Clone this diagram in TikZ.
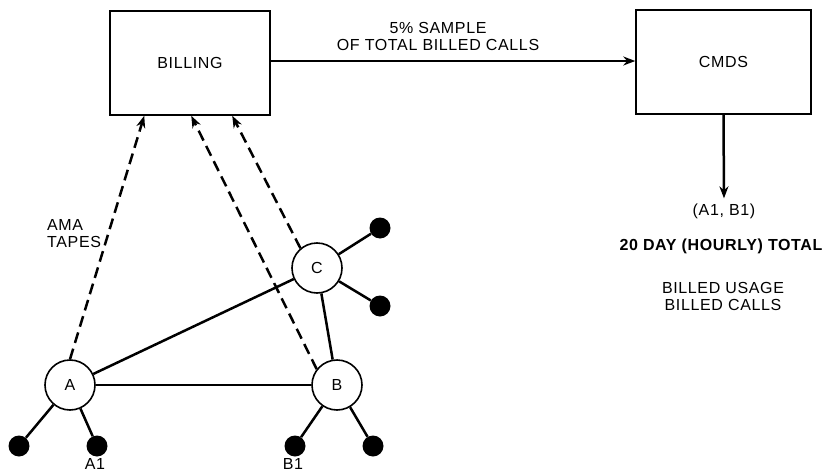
\documentclass[tikz,border=0pt]{standalone}
\usepackage{fontspec}
\setmainfont{Liberation Sans}[LetterSpace=4]
\usetikzlibrary{arrows.meta,calc}
\begin{document}
\begin{tikzpicture}[x=1pt,y=-1pt,
  every node/.style={font=\fontsize{16}{19}\selectfont},
  box/.style={draw,line width=1.5pt,inner sep=0pt},
  stn/.style={draw,circle,line width=1.6pt,minimum size=50pt,inner sep=0pt,fill=white},
  leaf/.style={circle,fill=black,minimum size=21pt,inner sep=0pt},
  wire/.style={line width=2.5pt},
  tip/.style={-{Stealth[length=12pt,width=9pt]}},
  dasharr/.style={wire,tip,dash pattern=on 11pt off 6pt},
  lbl/.style={inner sep=1pt,align=center}]
\useasboundingbox (0,0) rectangle (831,474);
% boxes
\node[box,minimum width=160pt,minimum height=104pt] (bill) at (190,63) {BILLING};
\node[box,minimum width=175pt,minimum height=104pt] (cmds) at (723.5,62) {CMDS};
% stations
\node[stn] (A) at (70,385) {A};
\node[stn] (B) at (337,385) {B};
\node[stn] (C) at (317,268) {C};
% leaves
\node[leaf] (a0) at (19,446) {};
\node[leaf] (a1) at (97,446) {};
\node[leaf] (b1) at (295,446) {};
\node[leaf] (b2) at (373,446) {};
\node[leaf] (c1) at (380,228) {};
\node[leaf] (c2) at (380,306) {};
% trunks
\draw[wire] (A) -- (B);
\draw[wire] (A) -- (C);
\draw[wire] (C) -- (B);
\draw[wire] (A) -- (a0);
\draw[wire] (A) -- (a1);
\draw[wire] (B) -- (b1);
\draw[wire] (B) -- (b2);
\draw[wire] (C) -- (c1);
\draw[wire] (C) -- (c2);
% AMA tapes
\draw[dasharr] (A.north) -- ($(bill.south west)+(35,0)$);
\draw[dasharr] (B.142) -- ($(bill.south west)+(82,0)$);
\draw[dasharr] (C.130) -- ($(bill.south west)+(123,0)$);
\node[lbl,align=left,anchor=west] (ama) at (46,234) {AMA\\[-2pt]TAPES};
% labels
\node[lbl] (a1l) at (95,464) {A1};
\node[lbl] (b1l) at (293,464) {B1};
% sample arrow
\draw[wire,tip] (bill.east |- 0,61) -- (cmds.west |- 0,61);
\node[lbl] (samp) at (438,36) {5\% SAMPLE\\[-2pt]OF TOTAL BILLED CALLS};
% output
\node[lbl] (ab) at (724,211) {(A1, B1)};
\draw[wire,tip] (cmds.south) -- ($(ab.north)+(0,-4)$);
\node[lbl,font=\fontsize{16}{19}\selectfont\bfseries] (tot) at (721,246) {20 DAY (HOURLY) TOTAL};
\node[lbl] (usage) at (723,296.5) {BILLED USAGE\\[-2pt]BILLED CALLS};
\end{tikzpicture}
\end{document}
